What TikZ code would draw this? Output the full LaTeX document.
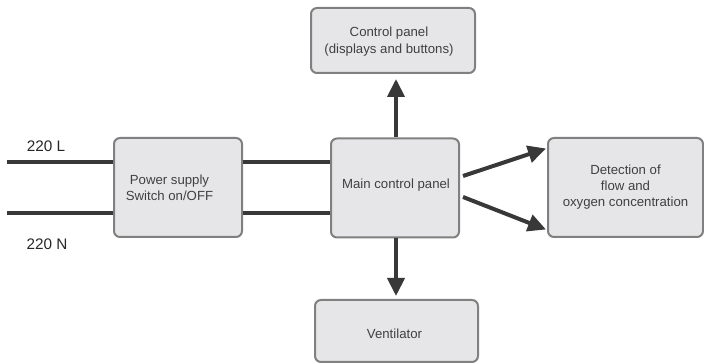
\documentclass[tikz,border=0pt]{standalone}
\usepackage{fontspec}
\setmainfont{Liberation Sans}
\usetikzlibrary{arrows.meta}

\begin{document}
\begin{tikzpicture}[x=1pt,y=1pt,
    block/.style={draw=black!50,fill=black!10!blue!1!white!91!black,line width=2pt,rounded corners=6pt,
      align=center,inner sep=0pt,text=black!75,font=\fontsize{13.2}{16}\selectfont},
    wire/.style={draw=black!78,line width=4pt},
    flow/.style={wire,-{Triangle[length=18pt,width=17pt]}},
    lbl/.style={text=black!85,font=\fontsize{15.3}{18}\selectfont}]
				\useasboundingbox (0,0) rectangle (704,363);
				\node[block,minimum width=128pt,minimum height=99pt] (PS) at (178,175.5) {};
				\node[block,minimum width=128pt,minimum height=99pt] (MCP) at (395,175) {};
				\node[block,minimum width=164pt,minimum height=65pt] (CP) at (393,322.5) {};
				\node[block,minimum width=155pt,minimum height=99pt] (DET) at (625.5,175.5) {Detection of\\flow and\\oxygen concentration};
				\node[block,minimum width=163pt,minimum height=62pt] (VEN) at (396.5,32) {};
				\node[block,draw=none,fill=none] (PST) at (169.5,175.5) {Power supply\\Switch on/OFF};
				\node[block,draw=none,fill=none] (MCPT) at (396,178) {Main control panel};
				\node[block,draw=none,fill=none,font=\fontsize{13.2}{17}\selectfont] (CPT) at (389,321.5) {Control panel\\(displays and buttons)};
				\node[block,draw=none,fill=none] (VENT) at (394.5,29) {Ventilator};
				\coordinate (L) at (7,201);
				\coordinate (N) at (7,150);
				\node[lbl] (LL) at (46,217) {220 L};
				\node[lbl] (NL) at (47,119) {220 N};
				\draw[wire] (L) -- (PS.west|-L);
				\draw[wire] (N) -- (PS.west|-N);
				\draw[wire] (PS.east|-L) -- (MCP.west|-L);
				\draw[wire] (PS.east|-N) -- (MCP.west|-N);
				\draw[flow] ([xshift=1pt]MCP.north) -- ([xshift=3pt,yshift=-5pt]CP.south);
				\draw[flow] ([xshift=1pt]MCP.south) -- ([xshift=-0.5pt,yshift=3pt]VEN.north);
				\draw[flow] ([shift={(3pt,12pt)}]MCP.east) -- ([shift={(-1pt,39pt)}]DET.west);
				\draw[flow] ([shift={(3pt,-9pt)}]MCP.east) -- ([shift={(-1pt,-42pt)}]DET.west);
\end{tikzpicture}
\end{document}
